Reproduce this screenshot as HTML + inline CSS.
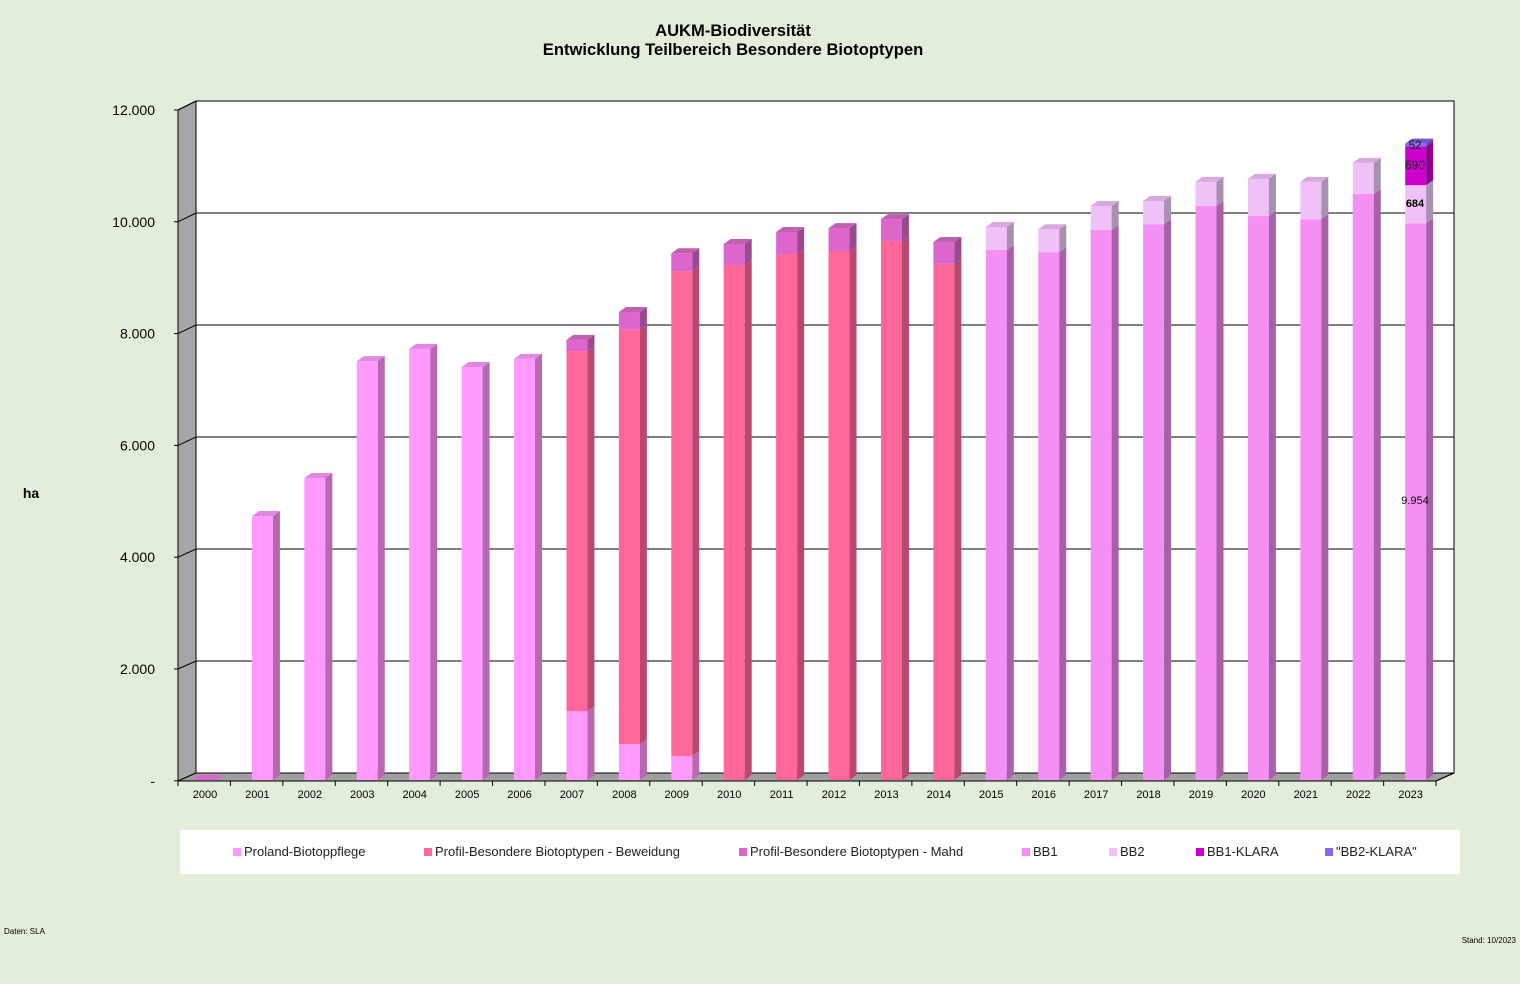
<!DOCTYPE html>
<html><head><meta charset="utf-8"><style>
body{margin:0;background:#e2eeda;}
svg{display:block;font-family:"Liberation Sans",sans-serif;}
</style></head><body>
<svg id="s" width="1520" height="984" xmlns="http://www.w3.org/2000/svg">
<rect width="1520" height="984" fill="#e2eeda"/>
<text x="733" y="36" font-size="16.6" font-weight="bold" text-anchor="middle">AUKM-Biodiversität</text>
<text x="733" y="55" font-size="16.6" font-weight="bold" text-anchor="middle">Entwicklung Teilbereich Besondere Biotoptypen</text>
<text x="31" y="498" font-size="14" font-weight="bold" text-anchor="middle">ha</text>
<polygon points="196,101 1454,101 1454,773 196,773" fill="#fff" stroke="#000" stroke-width="1"/>
<polygon points="178,110 196,101 196,773 178,781" fill="#a6a6a6" stroke="#000" stroke-width="1"/>
<polygon points="178,781 196,773 1454,773 1436,781" fill="#a0a0a0" stroke="#000" stroke-width="1"/>
<g id="g"></g>
<rect x="180" y="830" width="1280" height="44" fill="#fff"/>
<g font-size="13" fill="#222">
<rect x="233" y="848" width="8" height="8" fill="#ff99ff"/><text x="244" y="856">Proland-Biotoppflege</text>
<rect x="424" y="848" width="8" height="8" fill="#ff6699"/><text x="435" y="856">Profil-Besondere Biotoptypen - Beweidung</text>
<rect x="739" y="848" width="8" height="8" fill="#dd66cc"/><text x="750" y="856">Profil-Besondere Biotoptypen - Mahd</text>
<rect x="1022" y="848" width="8" height="8" fill="#f490f4"/><text x="1033" y="856">BB1</text>
<rect x="1109" y="848" width="8" height="8" fill="#f0c0f8"/><text x="1120" y="856">BB2</text>
<rect x="1196" y="848" width="8" height="8" fill="#cc00cc"/><text x="1207" y="856">BB1-KLARA</text>
<rect x="1325" y="848" width="8" height="8" fill="#8866ee"/><text x="1336" y="856">"BB2-KLARA"</text>
</g>
<text x="4" y="934" font-size="8">Daten: SLA</text>
<text x="1516" y="943" font-size="8" text-anchor="end">Stand: 10/2023</text>
</svg>
<script>
var g=document.getElementById('g'),h='';
var ys=[[0,'12.000'],[2000,'10.000'],[4000,'8.000'],[6000,'6.000'],[8000,'4.000'],[10000,'2.000'],[12000,'-']];
for(var k=0;k<=6;k++){var by=101+k*112,fy=110+k*111.8;
 if(k<6)h+='<polyline points="178,'+fy+' 196,'+by+' 1454,'+by+'" fill="none" stroke="#000"/>';
 h+='<line x1="174" y1="'+fy+'" x2="178" y2="'+fy+'" stroke="#000"/>';
 h+='<text x="155" y="'+(fy+5)+'" font-size="14" text-anchor="end">'+ys[k][1]+'</text>';}
var C={P:['#ff99ff','#b868b0','#e088e0'],B:['#ff6699','#b84870','#e05888'],M:['#dd66cc','#9a4890','#c060b0'],
b1:['#f490f4','#a860a8','#d880d8'],b2:['#f0c0f8','#a890b0','#d8a8e0'],k1:['#cc00cc','#8c008c','#aa00aa'],k2:['#8866ee','#5e48a8','#7458d0']};
var D=[[['M',25]],[['P',4720]],[['P',5400]],[['P',7490]],[['P',7710]],[['P',7385]],[['P',7530]],
[['P',1230],['B',6440],['M',200]],[['P',640],['B',7410],['M',320]],[['P',430],['B',8670],['M',320]],
[['B',9210],['M',375]],[['B',9406],['M',394]],[['B',9460],['M',410]],[['B',9640],['M',390]],[['B',9230],['M',390]],
[['b1',9478],['b2',412]],[['b1',9440],['b2',410]],[['b1',9835],['b2',430]],[['b1',9940],['b2',415]],[['b1',10265],['b2',430]],
[['b1',10085],['b2',665]],[['b1',10030],['b2',665]],[['b1',10480],['b2',555]],[['b1',9954],['b2',684],['k1',690],['k2',52]]];
var s=55.92/1000;
for(var i=0;i<24;i++){var x0=178+i*52.42,x=x0+21.5,w=21,dx=7,dy=5,y=780,cum=0;
 h+='<line x1="'+x0+'" y1="781" x2="'+x0+'" y2="786" stroke="#000"/>';
 h+='<text x="'+(x0+27)+'" y="798" font-size="11" text-anchor="middle">'+(2000+i)+'</text>';
 var segs=D[i];
 for(var j=0;j<segs.length;j++){var c=C[segs[j][0]],v=segs[j][1],y1=y-cum*s,y2=y-(cum+v)*s;cum+=v;
  if(i==0){h+='<polygon points="'+(x-8)+','+y+' '+(x+w-4)+','+y+' '+(x+w+3)+','+(y-5)+' '+(x-1)+','+(y-5)+'" fill="'+c[0]+'"/>';continue;}
  h+='<rect x="'+x+'" y="'+y2+'" width="'+w+'" height="'+(y1-y2)+'" fill="'+c[0]+'"/>';
  h+='<polygon points="'+(x+w)+','+y1+' '+(x+w+dx)+','+(y1-dy)+' '+(x+w+dx)+','+(y2-dy)+' '+(x+w)+','+y2+'" fill="'+c[1]+'"/>';
  if(j==segs.length-1)h+='<polygon points="'+x+','+y2+' '+(x+w)+','+y2+' '+(x+w+dx)+','+(y2-dy)+' '+(x+dx)+','+(y2-dy)+'" fill="'+c[2]+'"/>';}
}
h+='<line x1="1436" y1="781" x2="1436" y2="786" stroke="#000"/>';
h+='<line x1="1436" y1="781" x2="1454" y2="773" stroke="#000"/>';
h+='<text x="1415" y="149" font-size="12" text-anchor="middle" fill="#222">52</text>';
h+='<text x="1415" y="169" font-size="12" text-anchor="middle" fill="#222">690</text>';
h+='<text x="1415" y="207" font-size="11" font-weight="bold" text-anchor="middle">684</text>';
h+='<text x="1415" y="504" font-size="11" text-anchor="middle">9.954</text>';
g.innerHTML=h;
</script>
</body></html>
